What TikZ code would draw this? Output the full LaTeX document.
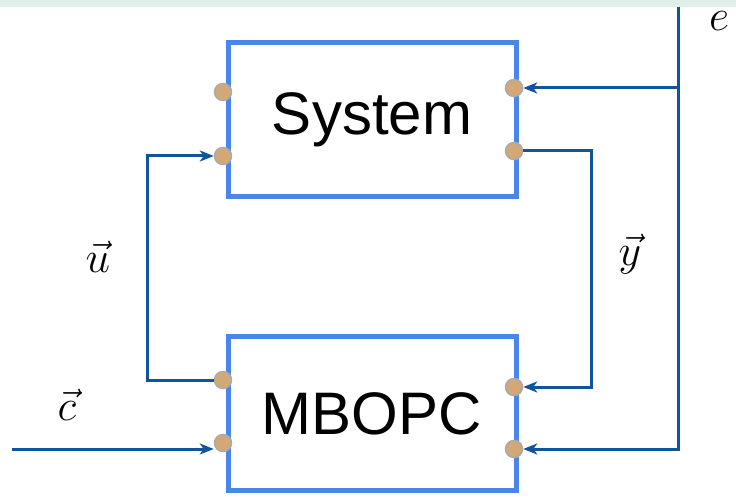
\RequirePackage{fix-cm}
\documentclass[tikz,border=0pt]{standalone}
\usepackage{fontspec}
\setmainfont{Liberation Sans}
\usepackage{tikz}
\usetikzlibrary{arrows.meta,positioning,calc,shadows}
\definecolor{boxBlue}{RGB}{74,134,232}
\definecolor{lineNavy}{RGB}{16,84,158}
\definecolor{portTan}{RGB}{212,168,118}
\definecolor{portRim}{RGB}{170,170,170}
\definecolor{stripMint}{RGB}{222,240,232}

\begin{document}
\begin{tikzpicture}[x=1pt,y=-1pt,
  block/.style={draw=boxBlue,line width=5pt,fill=white,minimum width=288pt,minimum height=154pt,inner sep=0pt,
    font=\fontsize{60}{62}\selectfont,drop shadow={shadow xshift=2pt,shadow yshift=-2pt,opacity=0.25}},
  port/.style={circle,fill=portTan,draw=portRim,line width=1.5pt,minimum size=17pt,inner sep=0pt},
  wire/.style={lineNavy,line width=3pt},
  feed/.style={wire,-{Stealth[length=14pt,width=11pt,inset=4pt]}},
  sig/.style={font=\fontsize{44}{46}\selectfont}]
  \useasboundingbox (0,0) rectangle (736,497);
  \fill[white] (0,0) rectangle (736,497);

  % the two blocks
  \node[block] (sys) at (372,120) {System};
  \node[block] (mbopc) at (372,413.5) {MBOPC};

  % ports on the block edges
  \foreach \nm/\x/\y in {sl1/223/92,sl2/223/156,sr1/514/88,sr2/514/151,ml1/223/380,ml2/223/443,mr1/514/387,mr2/514/449}{
    \node[port] (\nm) at (\x,\y) {};
  }

  \coordinate (uturn) at (147,0);
  \coordinate (yturn) at (591,0);
  \coordinate (etop) at (678,7);
  \coordinate (cin) at (12,449);

  \draw[feed] (ml1) -| (uturn |- sl2) -- (sl2);
  \draw[feed] (sr2) -| (yturn |- mr1) -- (mr1);
  \draw[feed] (etop) |- (mr2);
  \draw[feed] (etop |- sr1) -- (sr1);
  \draw[feed] (cin) -- (cin -| ml2.west);

  \node[sig] (ulab) at (98,257) {$\vec{u}$};
  \node[sig] (ylab) at (630,254) {$\vec{y}$};
  \node[sig] (clab) at (67,405) {$\vec{c}$};
  \node[sig,inner sep=0pt] (elab) at (719,21) {$e$};

  \fill[stripMint] (0,0) rectangle (736,7);
\end{tikzpicture}
\end{document}
